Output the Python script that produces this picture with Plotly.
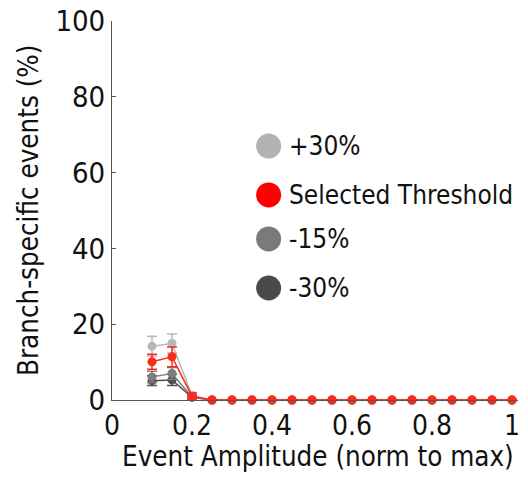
import plotly.graph_objects as go

amplitude = [0.10, 0.15, 0.20, 0.25, 0.30, 0.35, 0.40, 0.45, 0.50, 0.55, 0.60,
             0.65, 0.70, 0.75, 0.80, 0.85, 0.90, 0.95, 1.00]
plus30 = [14.2, 14.9, 1.2] + [0] * 16
plus30_err = [2.6, 2.5, 0.8] + [0] * 16
selected = [10.1, 11.4, 1.0] + [0] * 16
selected_err = [2.0, 2.6, 0.9] + [0] * 16
minus15 = [6.1, 7.0, 0.8] + [0] * 16
minus15_err = [1.5, 1.6, 0.6] + [0] * 16
minus30 = [5.1, 5.3, 0.7] + [0] * 16
minus30_err = [1.3, 1.5, 0.5] + [0] * 16

names = ["+30%", "Selected Threshold", "-15%", "-30%"]
legend_colors = ["#b3b3b3", "#ff0000", "#7a7a7a", "#4a4a4a"]
x_ticks = [0, 0.2, 0.4, 0.6, 0.8, 1.0]
x_tick_text = ["0", "0.2", "0.4", "0.6", "0.8", "1"]
y_ticks = [0, 20, 40, 60, 80, 100]

FONT = "DejaVu Sans Condensed, sans-serif"

fig = go.Figure()
series = [
    (plus30, plus30_err, "#b8b8b8"),
    (minus30, minus30_err, "#4d4d4d"),
    (minus15, minus15_err, "#7d7d7d"),
    (selected, selected_err, "#fd2b1c"),
]
for vals, err, col in series:
    fig.add_trace(go.Scatter(
        x=amplitude, y=vals, mode="lines+markers",
        line=dict(color=col, width=1.5),
        marker=dict(color=col, size=9),
        error_y=dict(type="data", array=err, color=col, thickness=1.5, width=5),
        showlegend=False, cliponaxis=False,
    ))

# custom legend (large round markers)
leg_y = [0.670, 0.541, 0.425, 0.2955]
for name, col, yy in zip(names, legend_colors, leg_y):
    fig.add_shape(type="circle", xref="paper", yref="paper",
                  x0=0.355, x1=0.355 + 25 / 406, y0=yy - 12.5 / 379, y1=yy + 12.5 / 379,
                  fillcolor=col, line=dict(width=0))
    fig.add_annotation(text=name, xref="paper", yref="paper", x=0.43, y=yy,
                       xanchor="left", yanchor="middle", showarrow=False,
                       font=dict(family=FONT, size=26, color="#111"))

# axis titles
fig.add_annotation(text="Event Amplitude (norm to max)", xref="paper", yref="paper",
                   x=0.507, y=-0.148, xanchor="center", yanchor="middle", showarrow=False,
                   font=dict(family=FONT, size=27.5, color="#111"))
fig.add_annotation(text="Branch-specific events (%)", xref="paper", yref="paper",
                   x=-0.207, y=0.501, xanchor="center", yanchor="middle", showarrow=False,
                   textangle=-90, font=dict(family=FONT, size=27.5, color="#111"))

fig.update_layout(
    width=528, height=477,
    margin=dict(l=112, r=10, t=21, b=77),
    paper_bgcolor="white", plot_bgcolor="white",
    font=dict(family=FONT, size=29, color="#111"),
)
fig.update_xaxes(
    range=[0, 1.015], tickvals=x_ticks, ticktext=x_tick_text,
    tickfont=dict(size=28),
    showgrid=False, zeroline=False, showline=True, linecolor="#555", linewidth=1,
    ticks="", ticklabelstandoff=0, automargin=False,
)
fig.update_yaxes(
    range=[0, 100], tickvals=y_ticks,
    showgrid=False, zeroline=False, showline=True, linecolor="#555", linewidth=1,
    ticks="inside", ticklen=4, tickcolor="#555", automargin=False,
)

fig.write_html("out.html")
